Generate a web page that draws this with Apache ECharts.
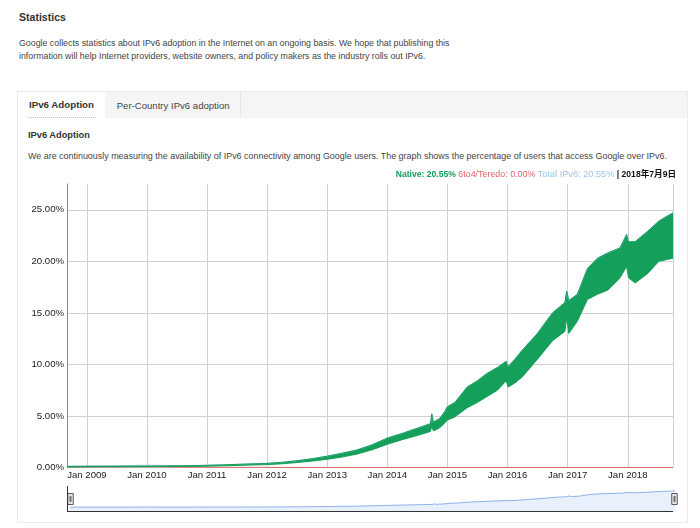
<!DOCTYPE html>
<html><head><meta charset="utf-8">
<script src="https://cdn.jsdelivr.net/npm/echarts@6/dist/echarts.min.js"></script>
<style>
html,body{margin:0;padding:0;width:700px;height:528px;overflow:hidden;background:#fff;font-family:"Liberation Sans",Arial,sans-serif;}
.t{position:absolute;white-space:nowrap;line-height:1;color:#444;}
.b{font-weight:bold;color:#333;}
#panel{position:absolute;left:17px;top:91px;width:671px;height:432px;border:1px solid #ebebeb;box-sizing:border-box;}
#tabbar{position:absolute;left:18px;top:92px;width:669px;height:26px;background:#f5f5f5;}
#tabact{position:absolute;left:18px;top:92px;width:87px;height:27px;background:#fff;}
#tabsep{position:absolute;left:240px;top:92px;width:1px;height:26px;background:#e6e6e6;}
#uline{position:absolute;left:29px;top:117px;width:67px;height:0;border-top:1px dotted #bbb;}
#chart{position:absolute;left:0;top:0;width:700px;height:528px;}
</style></head>
<body>
<div id="panel"></div>
<div id="tabbar"></div>
<div id="tabact"></div>
<div id="tabsep"></div>
<div id="uline"></div>
<div class="t b" data-x="19" data-base="20.7" data-w="47" style="font-size:12px">Statistics</div>
<div class="t" data-x="19" data-base="46.2" data-w="431" style="font-size:9px">Google collects statistics about IPv6 adoption in the Internet on an ongoing basis. We hope that publishing this</div>
<div class="t" data-x="19" data-base="59.5" data-w="407" style="font-size:9px">information will help Internet providers, website owners, and policy makers as the industry rolls out IPv6.</div>
<div class="t b" data-x="29" data-base="108.7" data-w="65" style="font-size:10px">IPv6 Adoption</div>
<div class="t" data-x="116.7" data-base="108.7" data-w="113" style="font-size:10px">Per-Country IPv6 adoption</div>
<div class="t b" data-x="28" data-base="138.5" data-w="62" style="font-size:9px">IPv6 Adoption</div>
<div class="t" data-x="28" data-base="159.5" data-w="640" style="font-size:9px">We are continuously measuring the availability of IPv6 connectivity among Google users. The graph shows the percentage of users that access Google over IPv6.</div>
<div id="chart"></div>
<script>
// ---- data (percent of users) ----
const dates = ['2008-09-02','2008-12-01','2009-03-01','2009-07-01','2009-10-01','2010-01-01','2010-04-01','2010-07-01','2010-10-01','2011-01-01',
  '2011-04-01','2011-07-01','2011-10-01','2012-01-01','2012-04-01','2012-07-01','2012-10-01','2013-01-01','2013-04-01','2013-07-01',
  '2013-10-01','2014-01-01','2014-04-01','2014-07-01','2014-09-20','2014-09-28','2014-10-08','2014-11-15','2014-12-15','2015-01-01',
  '2015-02-15','2015-05-01','2015-07-01','2015-09-01','2015-11-01','2015-12-24','2016-01-05','2016-02-15','2016-04-01','2016-07-01',
  '2016-10-01','2016-12-15','2016-12-26','2017-01-08','2017-03-01','2017-05-01','2017-07-01','2017-09-01','2017-11-15','2017-12-25',
  '2018-01-06','2018-02-15','2018-05-01','2018-07-09','2018-10-03'];
const nativeLow = [0.05,0.06,0.07,0.07,0.08,0.08,0.09,0.10,0.11,0.13,
  0.16,0.20,0.24,0.28,0.36,0.48,0.62,0.80,1.02,1.30,
  1.72,2.25,2.70,3.10,3.50,4.00,3.55,3.85,4.30,4.60,
  4.90,5.80,6.30,6.90,7.50,8.40,7.80,8.20,8.80,10.50,
  12.30,13.20,14.50,13.00,14.20,16.30,16.80,17.20,18.40,19.50,
  18.40,17.90,18.80,20.00,20.30];
const nativeHigh = [0.10,0.11,0.12,0.12,0.13,0.14,0.15,0.16,0.18,0.21,
  0.25,0.30,0.35,0.40,0.50,0.65,0.85,1.10,1.38,1.70,
  2.20,2.85,3.30,3.80,4.25,5.20,4.40,4.75,5.40,5.90,
  6.30,7.80,8.40,9.15,9.70,10.30,9.80,10.50,11.40,13.00,
  15.00,16.00,17.10,16.20,16.80,19.30,20.30,20.80,21.30,22.60,
  21.90,21.90,22.90,23.90,24.70];
const totalPct = [0.14,0.15,0.16,0.17,0.20,0.22,0.21,0.18,0.19,0.22,
  0.26,0.31,0.36,0.41,0.51,0.66,0.86,1.11,1.39,1.71,
  2.21,2.86,3.31,3.81,4.26,5.21,4.41,4.76,5.41,5.91,
  6.31,7.81,8.41,9.16,9.71,10.31,9.81,10.51,11.41,13.01,
  15.01,16.01,17.11,16.21,16.81,19.31,20.31,20.81,21.31,22.61,
  21.91,21.91,22.91,23.91,24.71];
const teredoDates = ['2008-09-02','2009-06-01','2010-01-01','2010-06-01','2011-01-01','2012-01-01','2014-01-01','2018-04-25','2018-05-02','2018-05-09','2018-10-03'];
const teredoPct = [0.04,0.05,0.07,0.04,0.02,0.01,0.00,0.00,0.10,0.00,0.00];
const xTickLabels = ['Jan 2009','Jan 2010','Jan 2011','Jan 2012','Jan 2013','Jan 2014','Jan 2015','Jan 2016','Jan 2017','Jan 2018'];
const xTickYears = [2009,2010,2011,2012,2013,2014,2015,2016,2017,2018];
const legendNative = 'Native: 20.55%';
const legendTeredo = '6to4/Teredo: 0.00%';
const legendTotal = 'Total IPv6: 20.55%';
const legendDate = '| 2018年7月9日';

// ---- fit page texts ----
document.querySelectorAll('.t').forEach(function(el){
  let fs = parseFloat(el.style.fontSize);
  const w = el.getBoundingClientRect().width;
  fs = fs * parseFloat(el.dataset.w) / w;
  el.style.fontSize = fs + 'px';
  el.style.left = el.dataset.x + 'px';
  el.style.top = (parseFloat(el.dataset.base) - 0.85 * fs) + 'px';
});

const pair = (ds, vs) => ds.map((d, i) => [d, vs[i]]);
const bandDiff = nativeHigh.map((h, i) => +(h - nativeLow[i]).toFixed(3));

const FONT = '"Liberation Sans",Arial,"Noto Sans CJK SC",sans-serif';
const chart = echarts.init(document.getElementById('chart'));
const GREEN = '#14a05a';
chart.setOption({
  animation: false,
  textStyle: {fontFamily: FONT},
  title: {
    right: 24, top: 170, padding: 0,
    text: '{g|' + legendNative + '} {r|' + legendTeredo + '} {b|' + legendTotal + '} {k|' + legendDate + '}',
    textStyle: {
      fontWeight: 'normal', fontSize: 8.7, fontFamily: FONT,
      rich: {
        g: {color: '#109d58', fontWeight: 'bold', fontSize: 8.6, fontFamily: FONT},
        r: {color: '#e06666', fontWeight: 'normal', fontSize: 8.9, fontFamily: FONT},
        b: {color: '#9fc5e8', fontWeight: 'normal', fontSize: 9.2, fontFamily: FONT},
        k: {color: '#111', fontWeight: 'bold', fontSize: 8.6, fontFamily: FONT}
      }
    }
  },
  grid: {left: 67, right: 27, top: 184, bottom: 60.5},
  xAxis: {
    type: 'time', min: '2008-09-02', max: '2018-10-03',
    splitNumber: 10, minInterval: 360 * 864e5, maxInterval: 370 * 864e5,
    axisLine: {show: true, lineStyle: {color: '#cccccc'}},
    axisTick: {show: false},
    axisLabel: {
      color: '#222', fontSize: 9.6, margin: 3, hideOverlap: false,
      formatter: function (v) {
        const d = new Date(v);
        const k = xTickYears.indexOf(d.getFullYear());
        return (d.getMonth() === 0 && k >= 0) ? xTickLabels[k] : '';
      }
    },
    splitLine: {show: true, lineStyle: {color: '#d0d0d0'}}
  },
  yAxis: {
    type: 'value', min: 0, max: 27.5, interval: 5,
    axisLine: {show: true, lineStyle: {color: '#888'}},
    axisTick: {show: false},
    axisLabel: {
      color: '#222', fontSize: 9.6, margin: 3, showMaxLabel: false,
      formatter: function (v) { return (v % 5 === 0) ? v.toFixed(2) + '%' : ''; }
    },
    splitLine: {show: true, showMaxLine: false, lineStyle: {color: '#d0d0d0'}}
  },
  dataZoom: [{
    type: 'slider', xAxisIndex: 0, left: 67, right: 27, top: 486, height: 26,
    start: 0, end: 100, showDetail: false, brushSelect: false, moveHandleSize: 0,
    borderColor: 'transparent', backgroundColor: 'transparent', fillerColor: 'rgba(0,0,0,0)',
    handleIcon: 'path://M0,0 L6,0 L6,12 L0,12 Z M2.5,3 L3.5,3 L3.5,9 L2.5,9 Z',
    handleSize: '42%',
    handleStyle: {color: '#eeeeee', borderColor: '#555', borderWidth: 1},
    dataBackground: {lineStyle: {color: '#8fb2ea', width: 1, opacity: 1}, areaStyle: {color: '#e8f0fb', opacity: 1}},
    selectedDataBackground: {lineStyle: {color: '#8fb2ea', width: 1, opacity: 1}, areaStyle: {color: '#e8f0fb', opacity: 1}}
  }],
  graphic: [
    {type: 'line', shape: {x1: 67.5, y1: 486, x2: 67.5, y2: 512}, style: {stroke: '#333', lineWidth: 1}, z: 100},
    {type: 'line', shape: {x1: 67, y1: 511.5, x2: 673, y2: 511.5}, style: {stroke: '#333', lineWidth: 1}, z: 100}
  ],
  series: [
    {name: 'Total IPv6', type: 'line', data: pair(dates, totalPct), symbol: 'none',
     lineStyle: {color: '#9fc5e8', width: 1}},
    {name: '6to4/Teredo', type: 'line', data: pair(teredoDates, teredoPct), symbol: 'none',
     lineStyle: {color: '#e06666', width: 1}},
    {name: 'nativeLow', type: 'line', stack: 'native', data: pair(dates, nativeLow), symbol: 'none',
     lineStyle: {color: GREEN, width: 1}},
    {name: 'Native', type: 'line', stack: 'native', data: pair(dates, bandDiff), symbol: 'none',
     lineStyle: {color: GREEN, width: 1}, areaStyle: {color: GREEN, opacity: 1}}
  ]
});
</script>
</body></html>
